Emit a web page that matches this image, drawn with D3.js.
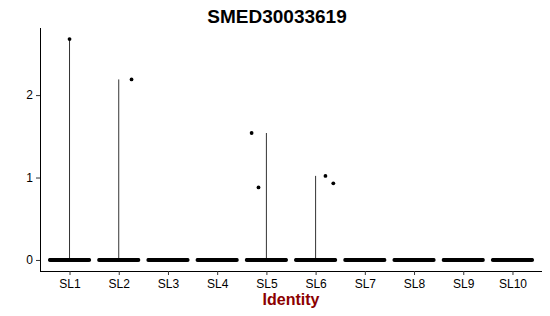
<!DOCTYPE html>
<html>
<head>
<meta charset="utf-8">
<script src="https://cdn.jsdelivr.net/npm/d3@7"></script>
<style>
  body { margin: 0; background: #fff; }
  svg { font-family: "Liberation Sans", Arial, sans-serif; }
</style>
</head>
<body>
<div id="chart"></div>
<script>
// categories and per-cluster data
const clusters = ["SL1", "SL2", "SL3", "SL4", "SL5", "SL6", "SL7", "SL8", "SL9", "SL10"];
// maximum expression per cluster (top of violin)
const violinMax = [2.68, 2.19, 0, 0, 1.54, 1.02, 0, 0, 0, 0];
// non-zero cells
const cellCluster = ["SL1", "SL2", "SL5", "SL5", "SL6", "SL6"];
const cellValue = [2.68, 2.19, 1.54, 0.88, 1.02, 0.93];
const cellJitter = [0.0, 0.26, -0.3, -0.16, 0.2, 0.36];
// count of zero-expression cells per cluster
const zeroCount = [60, 60, 60, 60, 60, 60, 60, 60, 60, 50];
const yTicks = [0, 1, 2];

const width = 550, height = 316;
const margin = {top: 28, right: 8, bottom: 45, left: 40};
const w = width - margin.left - margin.right;
const h = height - margin.top - margin.bottom;

const svg = d3.select("#chart").append("svg")
    .attr("width", width)
    .attr("height", height);

const g = svg.append("g")
    .attr("transform", "translate(" + margin.left + "," + margin.top + ")");

// ggplot-like discrete expansion: 0.6 of a step on each side
const x = d3.scalePoint()
    .domain(clusters)
    .range([0, w])
    .padding(0.6);
const step = x.step();

const yMax = d3.max(cellValue);
const pad = yMax * 0.05;
const y = d3.scaleLinear()
    .domain([-pad, yMax + pad])
    .range([h, 0]);

// violins (degenerate: thin lines)
g.selectAll(".violin")
    .data(clusters.map((c, i) => ({c: c, max: violinMax[i]})).filter(d => d.max > 0))
    .enter().append("line")
    .attr("class", "violin")
    .attr("x1", d => x(d.c))
    .attr("x2", d => x(d.c))
    .attr("y1", y(0))
    .attr("y2", d => y(d.max))
    .attr("stroke", "#333")
    .attr("stroke-width", 1);

// zero cells spread across jitter width
let zeros = [];
clusters.forEach((c, i) => {
    for (let k = 0; k < zeroCount[i]; k++) {
        zeros.push({c: c, off: -0.4 + 0.8 * k / (zeroCount[i] - 1)});
    }
});
g.selectAll(".zero")
    .data(zeros)
    .enter().append("circle")
    .attr("class", "zero")
    .attr("cx", d => x(d.c) + d.off * step)
    .attr("cy", y(0))
    .attr("r", 1.9)
    .attr("fill", "#000");

// non-zero cells
g.selectAll(".cell")
    .data(cellValue.map((v, i) => ({c: cellCluster[i], v: v, j: cellJitter[i]})))
    .enter().append("circle")
    .attr("class", "cell")
    .attr("cx", d => x(d.c) + d.j * step)
    .attr("cy", d => y(d.v))
    .attr("r", 1.9)
    .attr("fill", "#000");

// axes
const xAxis = d3.axisBottom(x).tickSize(4).tickPadding(4);
const yAxis = d3.axisLeft(y).tickValues(yTicks).tickFormat(d3.format("d")).tickSize(4).tickPadding(3);

const gx = g.append("g")
    .attr("class", "x-axis axis")
    .attr("transform", "translate(0," + h + ")")
    .call(xAxis);
gx.select(".domain").attr("d", "M0,0.5H" + w).attr("stroke", "#000");

const gy = g.append("g")
    .attr("class", "y-axis axis")
    .call(yAxis);
gy.select(".domain").attr("d", "M0.5,0V" + h).attr("stroke", "#000");

svg.selectAll(".axis text").attr("font-size", 12).attr("fill", "#000")
    .attr("font-family", "Liberation Sans, Arial, sans-serif");
svg.selectAll(".axis .tick line").attr("stroke", "#333");

// title
svg.append("text")
    .attr("x", 277)
    .attr("y", 23)
    .attr("text-anchor", "middle")
    .attr("font-size", 19)
    .attr("font-weight", "bold")
    .text("SMED30033619");

// x label
svg.append("text")
    .attr("x", 291)
    .attr("y", 305)
    .attr("text-anchor", "middle")
    .attr("font-size", 16)
    .attr("font-weight", "bold")
    .attr("fill", "#8B0000")
    .text("Identity");
</script>
</body>
</html>
